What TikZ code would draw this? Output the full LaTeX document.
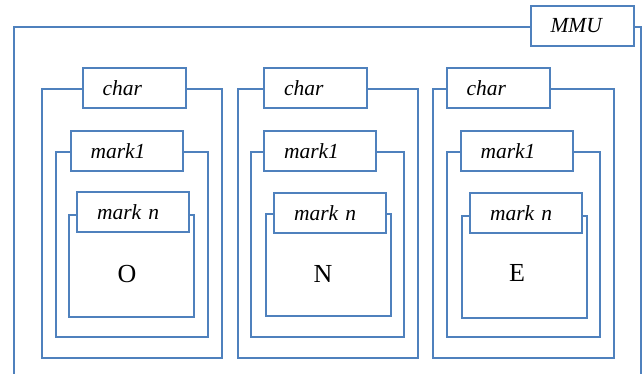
\documentclass[tikz,border=0pt]{standalone}
\usepackage{fontspec}
\setmainfont{Liberation Serif}
\usetikzlibrary{backgrounds}

\definecolor{mmublue}{RGB}{79,129,189}
\tikzset{
	frame/.style={draw=mmublue, line width=2pt},
	tag/.style={draw=mmublue, line width=2pt, fill=white, minimum height=40pt, inner xsep=20pt, inner ysep=0pt, align=left, font=\fontsize{21.5}{25}\selectfont\itshape},
	shorttag/.style={tag, text width=63pt},
	longtag/.style={tag, text width=72pt},
	glyph/.style={font=\fontsize{26}{30}\selectfont, inner sep=0pt}
}

\begin{document}
\begin{tikzpicture}[x=1pt, y=-1pt]
	\useasboundingbox (0,0) rectangle (643,374);

	%MMU
	\draw[frame] (14,374) -- (14,27) -- (641,27) -- (641,374);
	\node[shorttag] (mmu) at (582,26) {MMU};

	%O
	\draw[frame] (42,89) rectangle (222,358);
	\node[shorttag] (charO) at (134,88) {char};
	\draw[frame] (56,152) rectangle (208,337);
	\node[longtag] (markoneO) at (126.5,151) {mark1};
	\draw[frame] (69,215) rectangle (194,317);
	\node[longtag] (marknO) at (133,212) {mark n};
	\node[glyph] (O) at (127,274) {O};

	%N
	\draw[frame] (238,89) rectangle (418,358);
	\node[shorttag] (charN) at (315.5,88) {char};
	\draw[frame] (251,152) rectangle (404,337);
	\node[longtag] (markoneN) at (320,151) {mark1};
	\draw[frame] (266,214) rectangle (391,316);
	\node[longtag] (marknN) at (330,213) {mark n};
	\node[glyph] (N) at (323,274) {N};

	%E
	\draw[frame] (433,89) rectangle (614,358);
	\node[shorttag] (charE) at (498,88) {char};
	\draw[frame] (447,152) rectangle (600,337);
	\node[longtag] (markoneE) at (516.5,151) {mark1};
	\draw[frame] (462,216) rectangle (587,318);
	\node[longtag] (marknE) at (526,213) {mark n};
	\node[glyph] (E) at (517,273) {E};
\end{tikzpicture}
\end{document}
